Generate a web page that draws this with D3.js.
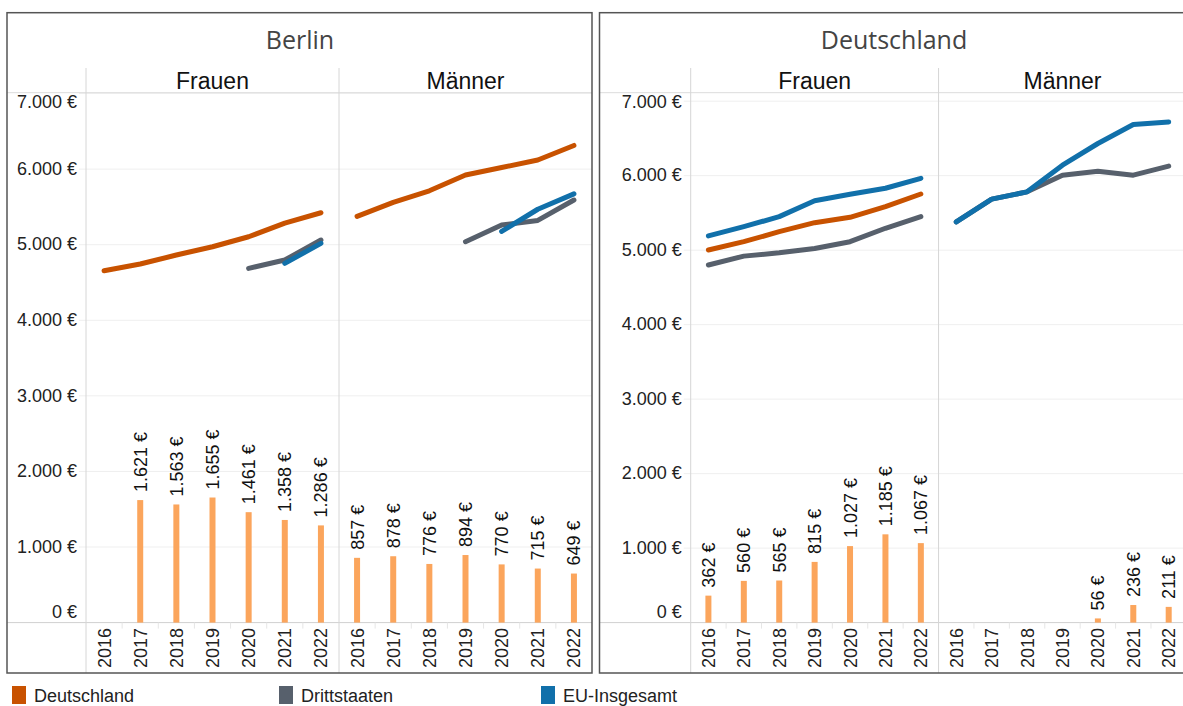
<!DOCTYPE html>
<html>
<head>
<meta charset="utf-8">
<script src="https://cdn.jsdelivr.net/npm/d3@7"></script>
<style>
  body { margin: 0; background: #fff; }
  svg text { font-family: "Liberation Sans", Arial, sans-serif; }
</style>
</head>
<body>
<svg id="chart" width="1183" height="706"></svg>
<script>
// ---- data -------------------------------------------------------------
const years = [2016, 2017, 2018, 2019, 2020, 2021, 2022];
const regions = ["Berlin", "Deutschland"];
const sexes = ["Frauen", "Männer"];
const seriesNames = ["Deutschland", "Drittstaaten", "EU-Insgesamt"];
const yTicks = [0, 1000, 2000, 3000, 4000, 5000, 6000, 7000];

// Berlin, Frauen
const berlinFrauenDeutschland = [4655, 4744, 4863, 4973, 5105, 5286, 5423];
const berlinFrauenDrittstaaten = [null, null, null, null, 4687, 4797, 5062];
const berlinFrauenEU = [null, null, null, null, null, 4753, 5018];
const berlinFrauenBars = [null, 1621, 1563, 1655, 1461, 1358, 1286];

// Berlin, Männer
const berlinMaennerDeutschland = [5375, 5559, 5713, 5922, 6021, 6120, 6313];
const berlinMaennerDrittstaaten = [null, null, null, 5040, 5261, 5321, 5591];
const berlinMaennerEU = [null, null, null, null, 5175, 5469, 5673];
const berlinMaennerBars = [857, 878, 776, 894, 770, 715, 649];

// Deutschland, Frauen
const deFrauenDeutschland = [5003, 5114, 5248, 5369, 5441, 5584, 5754];
const deFrauenDrittstaaten = [4801, 4920, 4964, 5023, 5114, 5294, 5450];
const deFrauenEU = [5191, 5315, 5450, 5664, 5750, 5831, 5965];
const deFrauenBars = [362, 560, 565, 815, 1027, 1185, 1067];

// Deutschland, Männer
const deMaennerDeutschland = [null, null, null, null, null, null, null];
const deMaennerDrittstaaten = [5380, 5685, 5783, 6007, 6060, 6007, 6128];
const deMaennerEU = [5380, 5685, 5783, 6141, 6432, 6687, 6722];
const deMaennerBars = [null, null, null, null, 56, 236, 211];

const panels = [
  { region: "Berlin", sex: "Frauen", lines: [berlinFrauenDeutschland, berlinFrauenDrittstaaten, berlinFrauenEU], bars: berlinFrauenBars },
  { region: "Berlin", sex: "Männer", lines: [berlinMaennerDeutschland, berlinMaennerDrittstaaten, berlinMaennerEU], bars: berlinMaennerBars },
  { region: "Deutschland", sex: "Frauen", lines: [deFrauenDeutschland, deFrauenDrittstaaten, deFrauenEU], bars: deFrauenBars },
  { region: "Deutschland", sex: "Männer", lines: [deMaennerDeutschland, deMaennerDrittstaaten, deMaennerEU], bars: deMaennerBars }
];

// ---- layout & style ---------------------------------------------------
const seriesColor = { "Deutschland": "#c85200", "Drittstaaten": "#57606c", "EU-Insgesamt": "#1170aa" };
const barColor = "#fba55c";

const boxes = {
  "Berlin":      { x0: 7,     x1: 592,  axisX: 86,    plotX1: 592,    yMax: 7011, titleX: 300 },
  "Deutschland": { x0: 599.5, x1: 1195, axisX: 690.7, plotX1: 1186.4, yMax: 7114, titleX: 894 }
};
const boxTop = 12.7, headerTop = 68, paneTop = 92.7, paneBottom = 622.6, boxBottom = 673;

const de = d3.formatLocale({ decimal: ",", thousands: ".", grouping: [3], currency: ["", " €"] });
const fmtEuro = v => de.format(",d")(v) + " €";

const svg = d3.select("#chart");

regions.forEach(region => {
  const b = boxes[region];
  const g = svg.append("g");
  const y = d3.scaleLinear().domain([0, b.yMax]).range([paneBottom, paneTop]);
  const facet = d3.scaleBand().domain(sexes).range([b.axisX, b.plotX1]);

  // gridlines
  g.append("g").selectAll("line").data(yTicks.filter(t => t > 0)).join("line")
    .attr("x1", b.axisX - 7).attr("x2", b.plotX1)
    .attr("y1", d => y(d)).attr("y2", d => y(d))
    .attr("stroke", "#efefef").attr("stroke-width", 1);

  // header separator and zero line
  g.append("line").attr("x1", b.x0).attr("x2", b.x1).attr("y1", paneTop).attr("y2", paneTop)
    .attr("stroke", "#dcdcdc").attr("stroke-width", 1);
  g.append("line").attr("x1", b.x0).attr("x2", b.x1).attr("y1", paneBottom).attr("y2", paneBottom)
    .attr("stroke", "#d0d0d0").attr("stroke-width", 1);

  // vertical dividers
  [b.axisX, facet("Männer")].forEach(xv => {
    g.append("line").attr("x1", xv).attr("x2", xv).attr("y1", headerTop).attr("y2", boxBottom)
      .attr("stroke", "#d6d6d6").attr("stroke-width", 1);
  });

  // y axis labels
  const yAxis = d3.axisLeft(y).tickValues(yTicks).tickFormat(fmtEuro).tickSize(0).tickPadding(0);
  const ya = g.append("g").attr("transform", `translate(${b.axisX - 9},0)`).call(yAxis);
  ya.select(".domain").remove();
  ya.selectAll(".tick").attr("transform", d => {
    const cy = Math.max(paneTop + 10, Math.min(paneBottom - 10.5, y(d)));
    return `translate(0,${cy})`;
  });
  ya.selectAll("text").attr("font-size", 18).attr("fill", "#222")
    .attr("font-family", "'Liberation Sans', Arial, sans-serif");

  // region title
  g.append("text").attr("x", b.titleX).attr("y", 49).attr("text-anchor", "middle")
    .attr("font-family", "'Open Sans', sans-serif").attr("font-size", 25).attr("fill", "#444")
    .style("font-family", "'Open Sans', sans-serif")
    .text(region);

  sexes.forEach(sex => {
    const p = panels.find(q => q.region === region && q.sex === sex);
    const fx0 = facet(sex), fx1 = fx0 + facet.bandwidth();
    const x = d3.scaleBand().domain(years).range([fx0, fx1]);
    const cx = yr => x(yr) + x.bandwidth() / 2;

    // facet header
    g.append("text").attr("x", (fx0 + fx1) / 2).attr("y", 89).attr("text-anchor", "middle")
      .attr("font-size", 23).attr("fill", "#111").text(sex);

    // small separators between year labels
    g.append("g").selectAll("line").data(years.slice(1)).join("line")
      .attr("x1", d => x(d)).attr("x2", d => x(d))
      .attr("y1", paneBottom).attr("y2", paneBottom + 6)
      .attr("stroke", "#e6e6e6");

    // year axis
    const xAxis = d3.axisBottom(x).tickSize(0).tickPadding(0);
    const xa = g.append("g").attr("transform", `translate(0,${paneBottom})`).call(xAxis);
    xa.select(".domain").remove();
    xa.selectAll("text")
      .attr("transform", "rotate(-90)")
      .attr("x", -(boxBottom - 5 - paneBottom)).attr("y", 0).attr("dy", "0.36em")
      .attr("text-anchor", "start")
      .attr("font-size", 18).attr("fill", "#222")
      .attr("font-family", "'Liberation Sans', Arial, sans-serif");
    xa.selectAll("text").attr("text-anchor", "start")
      .attr("x", 5 - (boxBottom - paneBottom));

    // bars
    const barData = years.map((yr, i) => ({ yr, v: p.bars[i] })).filter(d => d.v != null);
    g.append("g").selectAll("rect").data(barData).join("rect")
      .attr("x", d => cx(d.yr) - 3).attr("width", 6)
      .attr("y", d => y(d.v)).attr("height", d => y(0) - y(d.v))
      .attr("fill", barColor);
    g.append("g").selectAll("text").data(barData).join("text")
      .attr("transform", d => `translate(${cx(d.yr)},${y(d.v) - 8}) rotate(-90)`)
      .attr("dy", "0.36em").attr("font-size", 18).attr("fill", "#111")
      .text(d => fmtEuro(d.v));

    // lines
    const line = d3.line().defined(d => d.v != null).x(d => cx(d.yr)).y(d => y(d.v));
    seriesNames.forEach((name, si) => {
      const pts = years.map((yr, i) => ({ yr, v: p.lines[si][i] }));
      if (pts.filter(d => d.v != null).length < 2) return;
      g.append("path").datum(pts).attr("d", line)
        .attr("fill", "none").attr("stroke", seriesColor[name])
        .attr("stroke-width", 5).attr("stroke-linecap", "round").attr("stroke-linejoin", "round");
    });
  });

  // box frame
  g.append("rect").attr("x", b.x0).attr("y", boxTop)
    .attr("width", b.x1 - b.x0).attr("height", boxBottom - boxTop)
    .attr("fill", "none").attr("stroke", "#555").attr("stroke-width", 1.5);
});

// ---- legend -----------------------------------------------------------
const legendX = [12, 279, 541];
const legend = svg.append("g").selectAll("g").data(seriesNames).join("g")
  .attr("transform", (d, i) => `translate(${legendX[i]},686)`);
legend.append("rect").attr("width", 14).attr("height", 18).attr("fill", d => seriesColor[d]);
legend.append("text").attr("x", 22).attr("y", 16).attr("font-size", 18).attr("fill", "#222").text(d => d);
</script>
</body>
</html>
